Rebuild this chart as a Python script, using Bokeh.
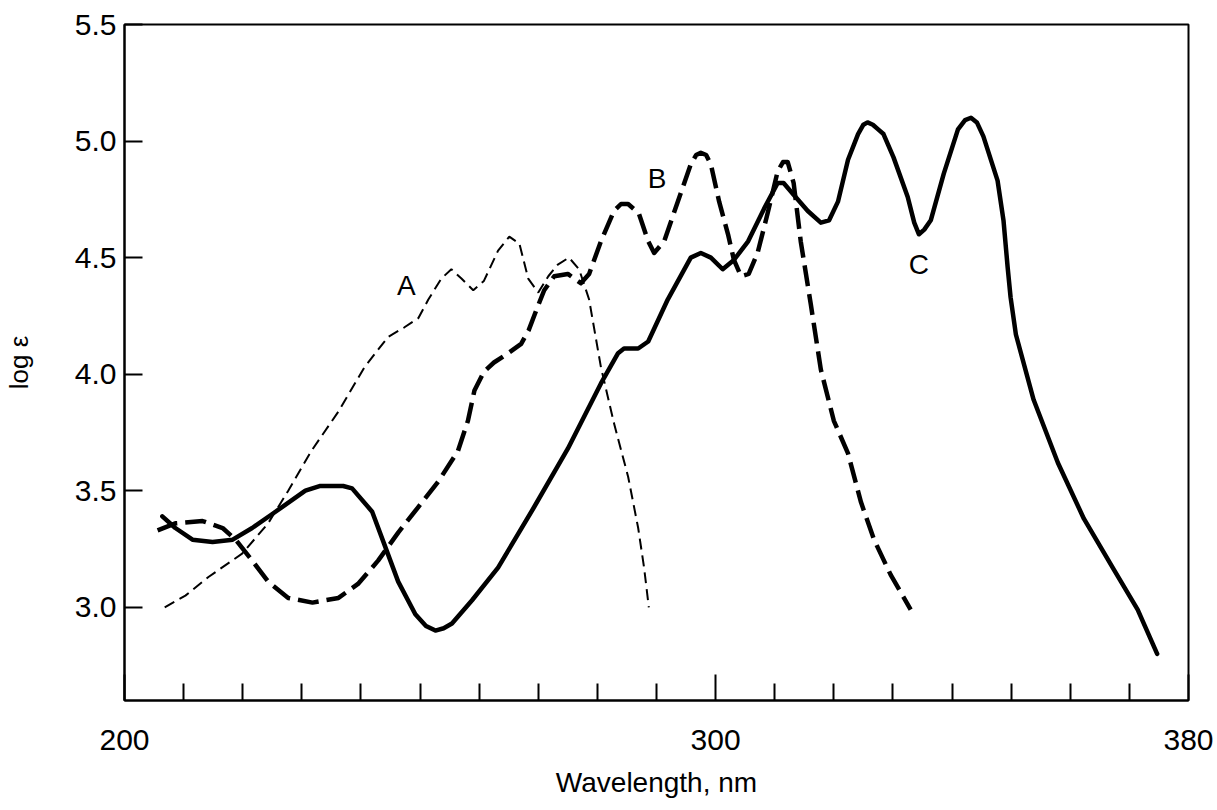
from bokeh.plotting import figure
from bokeh.models import Range1d, FixedTicker, Label, PrintfTickFormatter
from bokeh.embed import file_html
from bokeh.resources import INLINE

# Curve A (thin dashed)
a_x = [206.8, 210.3, 214.2, 219.9, 224.3, 227.7, 231.6, 236.2, 240.6, 244.6, 247.3, 249.7,
       251.4, 253.6, 255.3, 257.0, 259.0, 260.8, 263.2, 265.1, 266.8, 268.3, 270.0, 271.7,
       273.3, 275.2, 276.9, 277.7, 278.6, 280.6, 282.8, 285.2, 286.9, 287.9, 288.7]
a_y = [3.00, 3.05, 3.13, 3.23, 3.36, 3.50, 3.67, 3.84, 4.03, 4.16, 4.20, 4.24,
       4.32, 4.41, 4.45, 4.41, 4.36, 4.40, 4.53, 4.59, 4.56, 4.41, 4.35, 4.42,
       4.47, 4.50, 4.45, 4.39, 4.32, 4.03, 3.79, 3.56, 3.34, 3.17, 3.00]

# Curve B (thick dashed)
b_x = [205.6, 208.6, 213.2, 216.6, 218.8, 221.6, 224.3, 227.7, 231.8, 236.2, 239.5, 242.9,
       246.3, 249.7, 253.1, 256.4, 258.1, 259.2, 260.8, 262.5, 264.9, 267.1, 268.4, 269.6,
       271.0, 272.7, 275.0, 277.2, 278.6, 280.6, 282.8, 284.0, 285.2, 287.0, 288.6, 289.6, 291.3,
       293.6, 295.8, 296.7, 297.5, 298.4, 299.2, 300.6, 302.1, 303.1, 304.3, 305.6, 307.1, 308.8,
       310.5, 311.4, 312.2, 313.2, 314.4, 316.1, 317.8, 320.0, 322.4, 324.6, 326.8, 329.6, 333.0]
b_y = [3.33, 3.36, 3.37, 3.34, 3.29, 3.20, 3.11, 3.04, 3.02, 3.04, 3.10, 3.20,
       3.32, 3.43, 3.54, 3.67, 3.80, 3.93, 4.01, 4.05, 4.09, 4.13, 4.19, 4.27,
       4.36, 4.42, 4.43, 4.39, 4.43, 4.57, 4.70, 4.73, 4.73, 4.69, 4.57, 4.52, 4.57,
       4.74, 4.90, 4.94, 4.95, 4.94, 4.90, 4.74, 4.60, 4.49, 4.42, 4.43, 4.52, 4.69,
       4.87, 4.91, 4.91, 4.82, 4.57, 4.30, 4.02, 3.80, 3.66, 3.45, 3.29, 3.14, 2.99]

# Curve C (solid)
c_x = [206.4, 208.6, 211.5, 214.9, 218.3, 221.6, 225.0, 230.6, 233.0, 235.2, 237.0, 238.5,
       241.9, 244.1, 246.3, 249.2, 251.0, 252.6, 254.0, 255.4, 258.8, 263.2, 269.3, 275.0,
       280.6, 283.5, 284.5, 286.9, 288.6, 291.9, 295.8, 297.5, 299.2, 301.2, 303.1, 305.5,
       308.2, 310.5, 311.5, 313.2, 315.6, 317.8, 319.2, 320.7, 322.4, 324.1, 325.0, 325.7,
       326.6, 327.5, 328.4, 330.1, 332.5, 333.6, 334.4, 335.3, 336.4, 338.6, 341.0, 342.2,
       343.2, 344.2, 345.3, 347.7, 348.7, 349.4, 349.9, 350.8, 353.8, 357.9, 362.3, 367.4,
       371.4, 374.7]
c_y = [3.39, 3.34, 3.29, 3.28, 3.29, 3.34, 3.40, 3.50, 3.52, 3.52, 3.52, 3.51,
       3.41, 3.26, 3.11, 2.97, 2.92, 2.90, 2.91, 2.93, 3.03, 3.17, 3.43, 3.68,
       3.96, 4.09, 4.11, 4.11, 4.14, 4.32, 4.50, 4.52, 4.50, 4.45, 4.49, 4.57,
       4.71, 4.82, 4.82, 4.77, 4.70, 4.65, 4.66, 4.74, 4.92, 5.03, 5.07, 5.08,
       5.07, 5.05, 5.03, 4.93, 4.76, 4.65, 4.60, 4.62, 4.66, 4.86, 5.05, 5.09,
       5.10, 5.08, 5.02, 4.83, 4.66, 4.46, 4.33, 4.17, 3.89, 3.62, 3.38, 3.16,
       2.99, 2.80]

x_major_ticks = [200, 300, 380]
x_minor_ticks = [210, 220, 230, 240, 250, 260, 270, 280, 290, 310, 320, 330, 340, 350, 360, 370]
y_ticks = [3.0, 3.5, 4.0, 4.5, 5.0, 5.5]

FONT = "Liberation Sans"

p = figure(width=1217, height=810, output_backend="svg", toolbar_location=None,
           x_range=Range1d(200, 380), y_range=Range1d(2.6, 5.5),
           min_border_left=123, min_border_right=29, min_border_top=24, min_border_bottom=110,
           background_fill_color="white", border_fill_color="white")
p.grid.visible = False
p.outline_line_color = "black"
p.outline_line_width = 2

xa = p.xaxis[0]
xa.ticker = FixedTicker(ticks=x_major_ticks, minor_ticks=x_minor_ticks)
xa.formatter = PrintfTickFormatter(format="%d")
xa.major_tick_in = 26
xa.major_tick_out = 0
xa.minor_tick_in = 17
xa.minor_tick_out = 0
xa.major_tick_line_width = 2
xa.minor_tick_line_width = 2
xa.axis_line_width = 2
xa.major_label_standoff = 29
xa.major_label_text_font = FONT
xa.major_label_text_font_size = "30px"
xa.major_label_text_color = "black"
xa.axis_label = "Wavelength, nm"
xa.axis_label_text_font = FONT
xa.axis_label_text_font_size = "28px"
xa.axis_label_text_font_style = "normal"
xa.axis_label_text_color = "black"
xa.axis_label_standoff = 14

ya = p.yaxis[0]
ya.ticker = FixedTicker(ticks=y_ticks)
ya.formatter = PrintfTickFormatter(format="%.1f")
ya.major_tick_in = 18
ya.major_tick_out = 0
ya.minor_tick_in = 0
ya.minor_tick_out = 0
ya.major_tick_line_width = 2
ya.axis_line_width = 2
ya.major_label_standoff = 8
ya.major_label_text_font = FONT
ya.major_label_text_font_size = "30px"
ya.major_label_text_color = "black"
ya.axis_label = "log ε"
ya.axis_label_text_font = FONT
ya.axis_label_text_font_size = "26px"
ya.axis_label_text_font_style = "normal"
ya.axis_label_standoff = 38
ya.axis_label_text_color = "black"

p.line(a_x, a_y, line_color="black", line_width=2, line_dash="11 6")
p.line(b_x, b_y, line_color="black", line_width=4.5, line_dash="21 8", line_join="round")
p.line(c_x, c_y, line_color="black", line_width=4.5, line_join="round", line_cap="round")

for txt, lx, ly in [("A", 247.7, 4.38), ("B", 290.1, 4.84), ("C", 334.4, 4.47)]:
    p.add_layout(Label(x=lx, y=ly, text=txt, text_align="center", text_baseline="middle",
                       text_font=FONT, text_font_size="28px", text_color="black"))

open("out.html", "w").write(file_html(p, INLINE))
